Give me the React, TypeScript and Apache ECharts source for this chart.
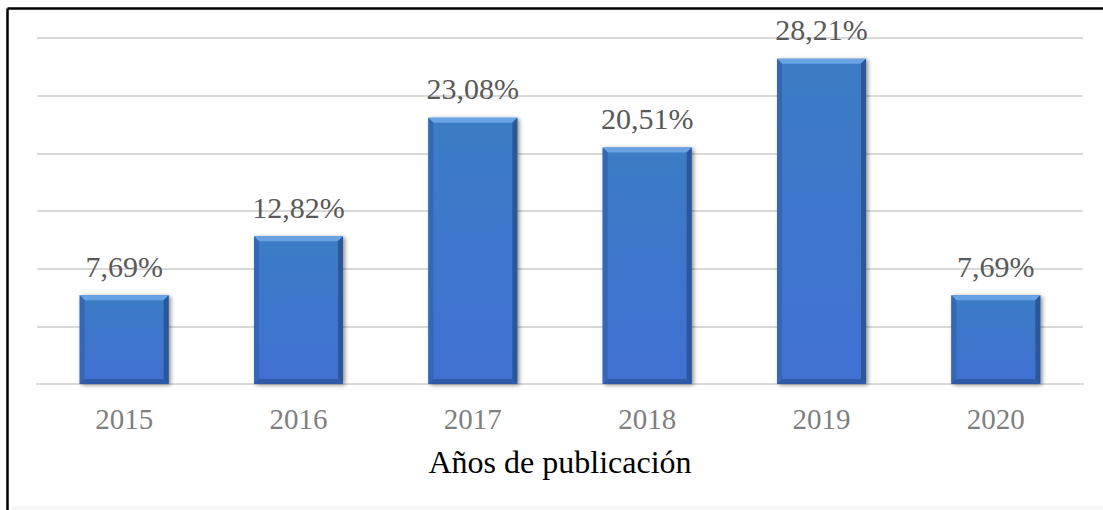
import React, { useEffect, useRef } from "react";
import * as echarts from "echarts";

const categories = ["2015", "2016", "2017", "2018", "2019", "2020"];
const values = [7.69, 12.82, 23.08, 20.51, 28.21, 7.69];
const valueLabels = ["7,69%", "12,82%", "23,08%", "20,51%", "28,21%", "7,69%"];
const axisName = "Años de publicación";

const BAR_W = 89;
const BEVEL = 5;
const FONT = "Liberation Serif";

export default function App() {
  const ref = useRef<HTMLDivElement>(null);
  useEffect(() => {
    const chart = echarts.init(ref.current!, null, { renderer: "svg" });
    chart.setOption({
      animation: false,
      backgroundColor: "#ffffff",
      grid: { left: 37, right: 20, top: 38, bottom: 126, containLabel: false },
      xAxis: {
        type: "category",
        data: categories,
        axisTick: { show: false },
        axisLine: { lineStyle: { color: "#d9d9d9", width: 2 } },
        axisLabel: { color: "#7f7f7f", fontFamily: FONT, fontSize: 29, margin: 20 },
        name: axisName,
        nameLocation: "middle",
        nameGap: 62,
        nameTextStyle: { color: "#000000", fontFamily: FONT, fontSize: 32 },
      },
      yAxis: {
        type: "value",
        min: 0,
        max: 30,
        interval: 5,
        axisLabel: { show: false },
        axisLine: { show: false },
        axisTick: { show: false },
        splitLine: { lineStyle: { color: "#d9d9d9", width: 2 } },
      },
      series: [
        {
          type: "bar",
          data: values,
          barWidth: BAR_W,
          z: 2,
          itemStyle: {
            color: new echarts.graphic.LinearGradient(0, 0, 0, 1, [
              { offset: 0, color: "#3a7cc4" },
              { offset: 1, color: "#4270d4" },
            ]),
            shadowBlur: 4,
            shadowColor: "rgba(0,0,0,0.45)",
            shadowOffsetX: 2,
            shadowOffsetY: 1,
          },
          label: {
            show: true,
            position: "top",
            distance: 14,
            color: "#595959",
            fontFamily: FONT,
            fontSize: 30,
            formatter: (p: any) => valueLabels[p.dataIndex],
          },
        },
        {
          type: "custom",
          z: 3,
          silent: true,
          data: values.map((v, i) => [i, v]),
          renderItem: (params: any, api: any) => {
            const top = api.coord([api.value(0), api.value(1)]);
            const bot = api.coord([api.value(0), 0]);
            const x0 = top[0] - BAR_W / 2;
            const x1 = top[0] + BAR_W / 2;
            const y0 = top[1];
            const y1 = bot[1];
            const b = BEVEL;
            return {
              type: "group",
              children: [
                {
                  type: "polygon",
                  shape: { points: [[x0, y0], [x1, y0], [x1 - b, y0 + b], [x0 + b, y0 + b]] },
                  style: { fill: "#6aa3e4" },
                },
                {
                  type: "polygon",
                  shape: { points: [[x0, y0], [x0 + b, y0 + b], [x0 + b, y1 - b], [x0, y1]] },
                  style: { fill: "#3567b5" },
                },
                {
                  type: "polygon",
                  shape: { points: [[x1, y0], [x1, y1], [x1 - b, y1 - b], [x1 - b, y0 + b]] },
                  style: { fill: "#2b5697" },
                },
                {
                  type: "polygon",
                  shape: { points: [[x0, y1], [x0 + b, y1 - b], [x1 - b, y1 - b], [x1, y1]] },
                  style: { fill: "#2e5aa8" },
                },
              ],
            };
          },
        },
      ],
      graphic: [
        { type: "rect", shape: { x: 12, y: 506, width: 1091, height: 4 }, style: { fill: "#f7f7f7" }, silent: true },
        { type: "line", shape: { x1: 7.5, y1: 8.5, x2: 1103, y2: 8.5 }, style: { stroke: "#000000", lineWidth: 2.5 }, silent: true },
        { type: "line", shape: { x1: 7.5, y1: 8.5, x2: 7.5, y2: 510 }, style: { stroke: "#000000", lineWidth: 2.5 }, silent: true },
      ],
    });
    return () => chart.dispose();
  }, []);
  return (
    <div
      ref={ref}
      style={{ position: "fixed", left: 0, top: 0, width: 1103, height: 510 }}
    />
  );
}
